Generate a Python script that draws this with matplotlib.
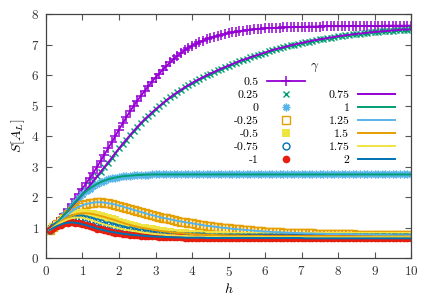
import numpy as np
import matplotlib
matplotlib.use("Agg")
import matplotlib.pyplot as plt
from matplotlib.lines import Line2D

plt.rcParams['font.family'] = ['cmr10', 'DejaVu Serif']
plt.rcParams['mathtext.fontset'] = 'cm'
plt.rcParams['axes.unicode_minus'] = False
plt.rcParams['axes.formatter.use_mathtext'] = True

# h grid (0.1 ... 10.0)
h = np.round(np.arange(1, 101) * 0.1, 1)

g_p050 = [0.93, 1.05, 1.18, 1.32, 1.47, 1.63, 1.79, 1.95, 2.12, 2.29,
          2.46, 2.63, 2.81, 3.00, 3.20, 3.40, 3.60, 3.80, 4.01, 4.22,
          4.42, 4.62, 4.81, 4.99, 5.16, 5.32, 5.48, 5.63, 5.78, 5.92,
          6.05, 6.18, 6.30, 6.42, 6.53, 6.63, 6.72, 6.81, 6.89, 6.96,
          7.02, 7.08, 7.13, 7.18, 7.22, 7.26, 7.29, 7.32, 7.35, 7.38,
          7.40, 7.42, 7.44, 7.46, 7.47, 7.48, 7.50, 7.51, 7.52, 7.53,
          7.54, 7.54, 7.55, 7.55, 7.56, 7.56, 7.57, 7.57, 7.58, 7.58,
          7.58, 7.59, 7.59, 7.59, 7.59, 7.60, 7.60, 7.60, 7.60, 7.60,
          7.60, 7.60, 7.61, 7.61, 7.61, 7.61, 7.61, 7.61, 7.61, 7.61,
          7.61, 7.61, 7.62, 7.62, 7.62, 7.62, 7.62, 7.62, 7.62, 7.62]

g_p025 = [0.93, 1.05, 1.17, 1.30, 1.43, 1.56, 1.69, 1.83, 1.96, 2.10,
          2.24, 2.39, 2.54, 2.69, 2.84, 2.99, 3.14, 3.29, 3.45, 3.60,
          3.75, 3.89, 4.03, 4.17, 4.30, 4.43, 4.55, 4.66, 4.77, 4.88,
          4.98, 5.08, 5.18, 5.27, 5.36, 5.44, 5.52, 5.60, 5.67, 5.74,
          5.81, 5.87, 5.93, 5.99, 6.05, 6.10, 6.16, 6.21, 6.26, 6.31,
          6.36, 6.41, 6.46, 6.50, 6.54, 6.58, 6.62, 6.66, 6.70, 6.74,
          6.78, 6.82, 6.85, 6.88, 6.91, 6.94, 6.97, 7.00, 7.03, 7.05,
          7.08, 7.10, 7.13, 7.15, 7.17, 7.19, 7.21, 7.23, 7.25, 7.27,
          7.29, 7.30, 7.32, 7.33, 7.35, 7.36, 7.37, 7.39, 7.40, 7.41,
          7.42, 7.43, 7.44, 7.45, 7.46, 7.47, 7.48, 7.49, 7.49, 7.50]

g_0 = [0.93, 1.05, 1.17, 1.30, 1.43, 1.57, 1.71, 1.85, 1.98, 2.10,
       2.20, 2.29, 2.37, 2.44, 2.50, 2.55, 2.59, 2.62, 2.65, 2.67,
       2.69, 2.70, 2.71, 2.72, 2.73, 2.735, 2.74, 2.745, 2.75, 2.75,
       2.75, 2.75, 2.75, 2.75, 2.75, 2.75, 2.75, 2.75, 2.75, 2.75,
       2.75, 2.75, 2.75, 2.75, 2.75, 2.75, 2.75, 2.75, 2.75, 2.75,
       2.75, 2.75, 2.75, 2.75, 2.75, 2.75, 2.75, 2.75, 2.75, 2.75,
       2.75, 2.75, 2.75, 2.75, 2.75, 2.75, 2.75, 2.75, 2.75, 2.75,
       2.75, 2.75, 2.75, 2.75, 2.75, 2.75, 2.75, 2.75, 2.75, 2.75,
       2.75, 2.75, 2.75, 2.75, 2.75, 2.75, 2.75, 2.75, 2.75, 2.75,
       2.75, 2.75, 2.75, 2.75, 2.75, 2.75, 2.75, 2.75, 2.75, 2.75]

g_m025 = [0.93, 1.02, 1.12, 1.23, 1.34, 1.45, 1.54, 1.62, 1.69, 1.74,
          1.78, 1.81, 1.83, 1.84, 1.84, 1.83, 1.81, 1.79, 1.76, 1.73,
          1.70, 1.66, 1.63, 1.59, 1.56, 1.52, 1.49, 1.45, 1.42, 1.39,
          1.36, 1.33, 1.31, 1.28, 1.26, 1.23, 1.21, 1.19, 1.17, 1.15,
          1.13, 1.11, 1.09, 1.07, 1.06, 1.04, 1.03, 1.01, 1.00, 0.99,
          0.97, 0.96, 0.95, 0.94, 0.93, 0.92, 0.91, 0.90, 0.89, 0.88,
          0.88, 0.87, 0.86, 0.86, 0.85, 0.85, 0.84, 0.84, 0.83, 0.83,
          0.82, 0.82, 0.82, 0.81, 0.81, 0.81, 0.80, 0.80, 0.80, 0.80,
          0.79, 0.79, 0.79, 0.79, 0.78, 0.78, 0.78, 0.78, 0.78, 0.77,
          0.77, 0.77, 0.77, 0.77, 0.76, 0.76, 0.76, 0.76, 0.76, 0.76]

g_m050 = [0.93, 1.02, 1.11, 1.20, 1.28, 1.35, 1.40, 1.44, 1.47, 1.48,
          1.48, 1.47, 1.45, 1.42, 1.39, 1.36, 1.32, 1.29, 1.25, 1.21,
          1.17, 1.13, 1.10, 1.07, 1.04, 1.01, 0.99, 0.97, 0.95, 0.93,
          0.91, 0.89, 0.88, 0.86, 0.85, 0.84, 0.83, 0.82, 0.81, 0.80,
          0.79, 0.79, 0.78, 0.78, 0.77, 0.77, 0.76, 0.76, 0.76, 0.75,
          0.75, 0.75, 0.75, 0.74, 0.74, 0.74, 0.74, 0.74, 0.74, 0.73,
          0.73, 0.73, 0.73, 0.73, 0.73, 0.73, 0.73, 0.73, 0.73, 0.73,
          0.73, 0.73, 0.73, 0.73, 0.73, 0.73, 0.73, 0.73, 0.73, 0.73,
          0.72, 0.72, 0.72, 0.72, 0.72, 0.72, 0.72, 0.72, 0.72, 0.72,
          0.72, 0.72, 0.72, 0.72, 0.72, 0.72, 0.72, 0.72, 0.72, 0.72]

g_m075 = [0.93, 1.02, 1.10, 1.17, 1.23, 1.28, 1.32, 1.34, 1.34, 1.33,
          1.30, 1.27, 1.23, 1.19, 1.15, 1.11, 1.08, 1.05, 1.02, 0.99,
          0.96, 0.94, 0.92, 0.90, 0.88, 0.86, 0.84, 0.83, 0.81, 0.80,
          0.79, 0.78, 0.77, 0.76, 0.76, 0.75, 0.74, 0.74, 0.73, 0.73,
          0.72, 0.72, 0.72, 0.71, 0.71, 0.71, 0.71, 0.70, 0.70, 0.70,
          0.70, 0.70, 0.70, 0.70, 0.70, 0.70, 0.70, 0.70, 0.70, 0.70,
          0.70, 0.70, 0.70, 0.70, 0.70, 0.70, 0.70, 0.70, 0.70, 0.70,
          0.69, 0.69, 0.69, 0.69, 0.69, 0.69, 0.69, 0.69, 0.69, 0.69,
          0.69, 0.69, 0.69, 0.69, 0.69, 0.69, 0.69, 0.69, 0.69, 0.69,
          0.69, 0.69, 0.69, 0.69, 0.69, 0.69, 0.69, 0.69, 0.69, 0.69]

g_m100 = [0.93, 1.00, 1.06, 1.11, 1.15, 1.17, 1.18, 1.17, 1.15, 1.12,
          1.09, 1.05, 1.02, 0.98, 0.95, 0.92, 0.89, 0.87, 0.85, 0.83,
          0.81, 0.80, 0.78, 0.77, 0.76, 0.75, 0.74, 0.73, 0.72, 0.72,
          0.71, 0.71, 0.70, 0.70, 0.69, 0.69, 0.69, 0.68, 0.68, 0.68,
          0.68, 0.68, 0.68, 0.67, 0.67, 0.67, 0.67, 0.67, 0.67, 0.67,
          0.67, 0.67, 0.67, 0.67, 0.67, 0.67, 0.67, 0.67, 0.67, 0.67,
          0.67, 0.67, 0.67, 0.67, 0.67, 0.67, 0.67, 0.67, 0.67, 0.67,
          0.66, 0.66, 0.66, 0.66, 0.66, 0.66, 0.66, 0.66, 0.66, 0.66,
          0.66, 0.66, 0.66, 0.66, 0.66, 0.66, 0.66, 0.66, 0.66, 0.66,
          0.66, 0.66, 0.66, 0.66, 0.66, 0.66, 0.66, 0.66, 0.66, 0.66]

point_labels = ['0.5', '0.25', '0', '-0.25', '-0.5', '-0.75', '-1']
point_data = [g_p050, g_p025, g_0, g_m025, g_m050, g_m075, g_m100]
line_labels = ['0.75', '1', '1.25', '1.5', '1.75', '2']
line_data = [g_p025, g_0, g_m025, g_m050, g_m075, g_m100]

PURPLE = '#9400D3'
TEAL = '#009E73'
SKY = '#56B4E9'
ORANGE = '#E69F00'
YELLOW = '#F0E442'
BLUE = '#0072B2'
RED = '#E51E10'

point_styles = [
    dict(marker='+', color=PURPLE, ms=7, mew=1.1, ls='-', lw=1.3),
    dict(marker='x', color=TEAL, ms=4.5, mew=1.0, ls='none'),
    dict(marker=(8, 2, 0), color=SKY, ms=5.5, mew=1.0, ls='none'),
    dict(marker='s', color=ORANGE, mfc='none', ms=5.5, mew=1.0, ls='none'),
    dict(marker='s', color=YELLOW, ms=5.5, mew=0, ls='none'),
    dict(marker='o', color=BLUE, mfc='none', ms=5, mew=1.0, ls='none'),
    dict(marker='o', color=RED, ms=5.5, mew=0, ls='none'),
]
line_colors = [PURPLE, TEAL, SKY, ORANGE, YELLOW, BLUE]

fig = plt.figure(figsize=(4.36, 3.03), dpi=100)
ax = fig.add_axes([0.1055, 0.1469, 0.8372, 0.8069])

handles = []
labels = []
for lab, d, st in zip(point_labels, point_data, point_styles):
    hdl, = ax.plot(h, d, **st)
    handles.append(hdl)
    labels.append(lab)
blank = Line2D([], [], ls='none', marker='none')
handles.append(blank)
labels.append(' ')
for lab, d, c in zip(line_labels, line_data, line_colors):
    hdl, = ax.plot(h, d, color=c, lw=1.4)
    handles.append(hdl)
    labels.append(lab)

ax.set_xlim(0, 10)
ax.set_ylim(0, 8)
ax.set_xticks(range(0, 11))
ax.set_yticks(range(0, 9))
ax.tick_params(direction='in', top=True, right=True, length=4, width=0.8,
               color='#555555', labelsize=9.5, labelcolor='#333333', pad=5)
for sp in ax.spines.values():
    sp.set_color('#444444')
    sp.set_linewidth(0.9)

ax.set_xlabel(r'$h$', fontsize=10, labelpad=2)
ax.set_ylabel(r'$S[A_L]$', fontsize=10, labelpad=3)

leg = ax.legend(handles, labels, ncol=2, markerfirst=False, frameon=False,
                title=r'$\gamma$', title_fontsize=9.5, fontsize=8.5,
                loc='upper left', bbox_to_anchor=(0.492, 0.845),
                handlelength=3.2, handletextpad=0.7, columnspacing=2.0,
                labelspacing=0.23, borderpad=0.2)

fig.savefig('out.png', dpi=100)
